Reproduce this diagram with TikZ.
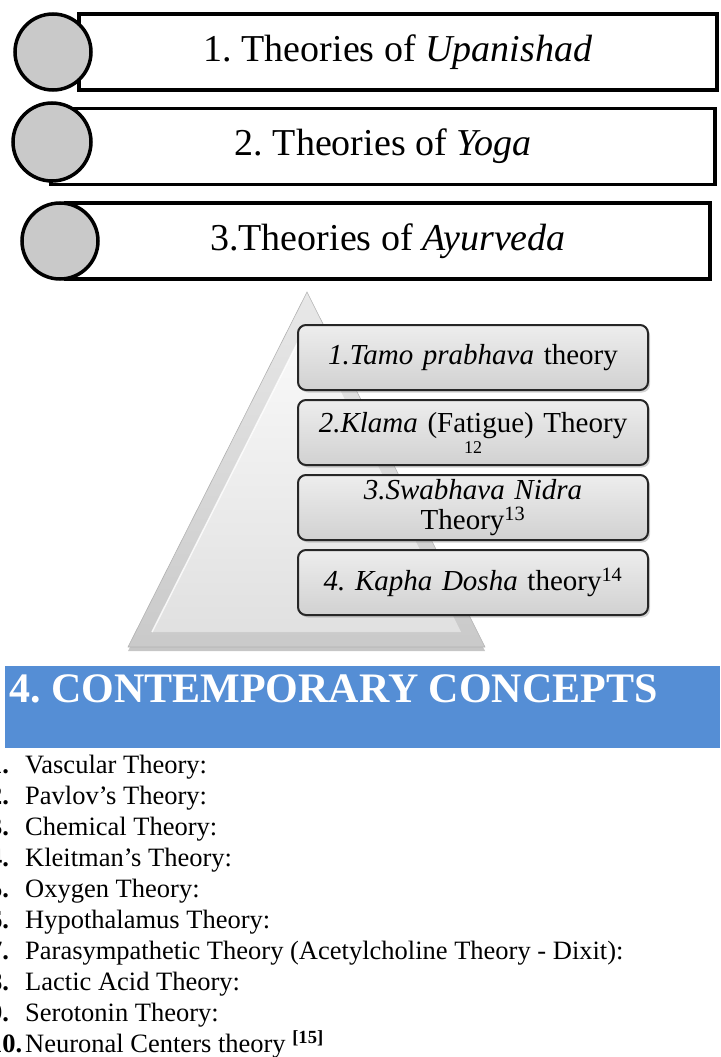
\documentclass[tikz,border=0pt]{standalone}
\usepackage{fontspec}
\setmainfont{Liberation Serif}
\usepackage{tikz}
\usetikzlibrary{shapes.geometric, positioning, shadows}
\tikzstyle{titlebar} = [rectangle, draw=black, line width=3.5pt, fill=white, minimum height=76pt, inner sep=0pt, font=\fontsize{38}{42}\selectfont]
\tikzstyle{disc} = [circle, draw=black, line width=3.5pt, fill=gray!42, minimum size=76pt, inner sep=0pt]
\tikzstyle{theorybox} = [rectangle, rounded corners=8pt, draw=black!85, line width=2pt, top color=gray!14, bottom color=gray!36, minimum width=350pt, minimum height=65pt, text width=340pt, align=center, inner sep=0pt, font=\fontsize{29}{30}\selectfont, drop shadow={opacity=0.35, shadow xshift=2pt, shadow yshift=-2.5pt}]
\tikzstyle{listitem} = [anchor=base west, inner sep=0pt, font=\fontsize{26.5}{30}\selectfont]
\tikzstyle{listnum} = [listitem, font=\fontsize{26.5}{30}\selectfont\bfseries]
\usepackage{xcolor}
\definecolor{bannerblue}{HTML}{558ED5}
\frenchspacing

\begin{document}
\begin{tikzpicture}[x=1pt, y=-1pt, node distance=94.5pt]
    \useasboundingbox (0,0) rectangle (720,1057);
    \clip (0,0) rectangle (720,1057);

    \node (upan) [titlebar, minimum width=638pt] at (398,52) {1. Theories of \textit{Upanishad}};
    \node (yoga) [titlebar, minimum width=664pt, below of=upan, xshift=-15pt] {2. Theories of \textit{Yoga}};
    \node (ayur) [titlebar, minimum width=644pt, below of=yoga, xshift=5pt] {3.Theories of \textit{Ayurveda}};
    \node (d1) [disc] at (53,52) {};
    \node (d2) [disc, minimum size=78pt] at (52,142) {};
    \node (d3) [disc] at (60,241) {};

    \path [drop shadow={opacity=0.45, shadow xshift=0pt, shadow yshift=-4pt}, top color=gray!18, bottom color=gray!42, draw=gray!60, line width=0.6pt] (307,292) -- (485,647) -- (128,647) -- cycle;
    \path [top color=gray!4, bottom color=gray!24] (307,324) -- (461,632) -- (152,632) -- cycle;
    \draw [white, line width=1.5pt, opacity=0.8] (152,632) -- (307,324);

    \node (tamo) [theorybox] at (473,357.5) {\textit{1.Tamo prabhava} theory};
    \node (klama) [theorybox, below=8pt of tamo] {\textit{2.Klama} (Fatigue) Theory\\[-9pt]{\fontsize{18}{18}\selectfont 12}};
    \node (swab) [theorybox, below=8pt of klama] {\textit{3.Swabhava Nidra}\\Theory\textsuperscript{13}};
    \node (kapha) [theorybox, below=8pt of swab] {\textit{4. Kapha Dosha} theory\textsuperscript{14}};

    \node (banner) [rectangle, fill=bannerblue, minimum width=715pt, minimum height=82pt, anchor=north west, inner sep=0pt] at (5,666) {};
    \node (heading) [anchor=base west, inner sep=0pt, text=white, font=\fontsize{42}{44}\selectfont\bfseries] at (9,702) {4. CONTEMPORARY CONCEPTS};

    \node (t1) [listitem] at (25,773) {Vascular Theory:};
    \node (t2) [listitem, below=31.1pt of t1.base west, anchor=base west] {Pavlov’s Theory:};
    \node (t3) [listitem, below=31.1pt of t2.base west, anchor=base west] {Chemical Theory:};
    \node (t4) [listitem, below=31.1pt of t3.base west, anchor=base west] {Kleitman’s Theory:};
    \node (t5) [listitem, below=31.1pt of t4.base west, anchor=base west] {Oxygen Theory:};
    \node (t6) [listitem, below=31.1pt of t5.base west, anchor=base west] {Hypothalamus Theory:};
    \node (t7) [listitem, below=31.1pt of t6.base west, anchor=base west] {Parasympathetic Theory (Acetylcholine Theory - Dixit):};
    \node (t8) [listitem, below=31.1pt of t7.base west, anchor=base west] {Lactic Acid Theory:};
    \node (t9) [listitem, below=31.1pt of t8.base west, anchor=base west] {Serotonin Theory:};
    \node (t10) [listitem, below=31.1pt of t9.base west, anchor=base west] {Neuronal Centers theory \textsuperscript{\textbf{[15]}}};

    \node (n1) [listnum, left=36pt of t1.base west, anchor=base west] {1.};
    \node (n2) [listnum, left=36pt of t2.base west, anchor=base west] {2.};
    \node (n3) [listnum, left=36pt of t3.base west, anchor=base west] {3.};
    \node (n4) [listnum, left=36pt of t4.base west, anchor=base west] {4.};
    \node (n5) [listnum, left=36pt of t5.base west, anchor=base west] {5.};
    \node (n6) [listnum, left=36pt of t6.base west, anchor=base west] {6.};
    \node (n7) [listnum, left=36pt of t7.base west, anchor=base west] {7.};
    \node (n8) [listnum, left=36pt of t8.base west, anchor=base west] {8.};
    \node (n9) [listnum, left=36pt of t9.base west, anchor=base west] {9.};
    \node (n10) [listnum, left=36pt of t10.base west, anchor=base west] {10.};
\end{tikzpicture}
\end{document}
